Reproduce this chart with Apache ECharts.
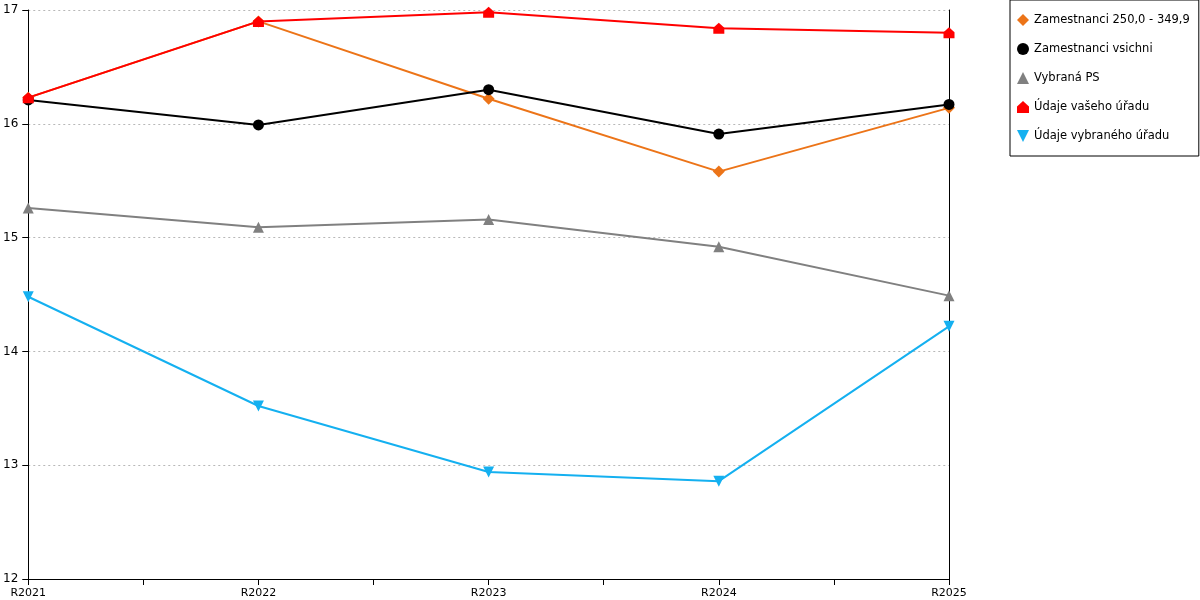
<!DOCTYPE html>
<html>
<head>
<meta charset="utf-8">
<script src="https://cdn.jsdelivr.net/npm/echarts@6/dist/echarts.min.js"></script>
<style>
  html, body { margin: 0; padding: 0; background: #fff; }
  #chart { width: 1200px; height: 600px; }
</style>
</head>
<body>
<div id="chart"></div>
<script>
// kategorie na ose x
const years = ['R2021', 'R2022', 'R2023', 'R2024', 'R2025']

// hodnoty serii
const zam250 = [16.23, 16.90, 16.22, 15.58, 16.14]
const zamVsichni = [16.21, 15.99, 16.30, 15.91, 16.17]
const vybranaPS = [15.26, 15.09, 15.16, 14.92, 14.49]
const vasUrad = [16.23, 16.90, 16.98, 16.84, 16.80]
const vybranyUrad = [14.48, 13.52, 12.94, 12.86, 14.22]

// osa y
const yTicks = [12, 13, 14, 15, 16, 17]

const house = 'path://M5,0 L10,4.5 L10,10 L0,10 L0,4.5 Z'

// prevod na body [index, hodnota]
const toPoints = arr => arr.map((v, i) => [i, v])

const myChart = echarts.init(document.querySelector('#chart'))

function makeSeries(name, data, color, symbol, size, rotate) {
  return {
    name: name,
    type: 'line',
    data: toPoints(data),
    symbol: symbol,
    symbolSize: size,
    symbolRotate: rotate || 0,
    lineStyle: { width: 2, color: color },
    itemStyle: { color: color },
    emphasis: { disabled: true },
    animation: false
  }
}

const option = {
  textStyle: { fontFamily: 'DejaVu Sans' },
  grid: { left: 28, right: 251, top: 10, bottom: 21 },
  legend: {
    orient: 'vertical',
    left: 1010,
    top: 0,
    padding: [14, 9, 14, 7],
    itemGap: 17,
    itemWidth: 12,
    itemHeight: 12,
    borderColor: '#000',
    borderWidth: 1,
    textStyle: { fontSize: 11.5, color: '#000' },
    data: [
      { name: 'Zamestnanci 250,0 - 349,9', icon: 'diamond' },
      { name: 'Zamestnanci vsichni', icon: 'circle' },
      { name: 'Vybraná PS', icon: 'triangle' },
      { name: 'Údaje vašeho úřadu', icon: house },
      { name: 'Údaje vybraného úřadu', icon: 'path://M0,0 L10,0 L5,10 Z' }
    ]
  },
  xAxis: {
    type: 'value',
    min: 0,
    max: years.length - 1,
    interval: 0.5,
    axisLine: { lineStyle: { color: '#000', width: 1 } },
    axisTick: { show: true, length: 6, lineStyle: { color: '#000' } },
    axisLabel: {
      color: '#000',
      fontSize: 11,
      margin: 9,
      formatter: v => (Number.isInteger(v) ? years[v] : '')
    },
    splitLine: { show: false }
  },
  yAxis: [
    {
      type: 'value',
      min: yTicks[0],
      max: yTicks[yTicks.length - 1],
      interval: 1,
      axisLine: { show: true, lineStyle: { color: '#000', width: 1 } },
      axisTick: { show: true, length: 6, lineStyle: { color: '#000' } },
      axisLabel: { color: '#000', fontSize: 12, margin: 10 },
      splitLine: { lineStyle: { type: [2, 3], color: '#b8b8b8' } }
    },
    {
      type: 'value',
      position: 'right',
      min: yTicks[0],
      max: yTicks[yTicks.length - 1],
      axisLine: { show: true, lineStyle: { color: '#000', width: 1 } },
      axisTick: { show: false },
      axisLabel: { show: false },
      splitLine: { show: false }
    }
  ],
  series: [
    makeSeries('Zamestnanci 250,0 - 349,9', zam250, '#ec7418', 'diamond', 12),
    makeSeries('Zamestnanci vsichni', zamVsichni, '#000000', 'circle', 11),
    makeSeries('Vybraná PS', vybranaPS, '#808080', 'triangle', 11),
    makeSeries('Údaje vašeho úřadu', vasUrad, '#ff0000', house, 11),
    makeSeries('Údaje vybraného úřadu', vybranyUrad, '#14b0f0', 'triangle', 11, 180)
  ]
}

myChart.setOption(option)
</script>
</body>
</html>
